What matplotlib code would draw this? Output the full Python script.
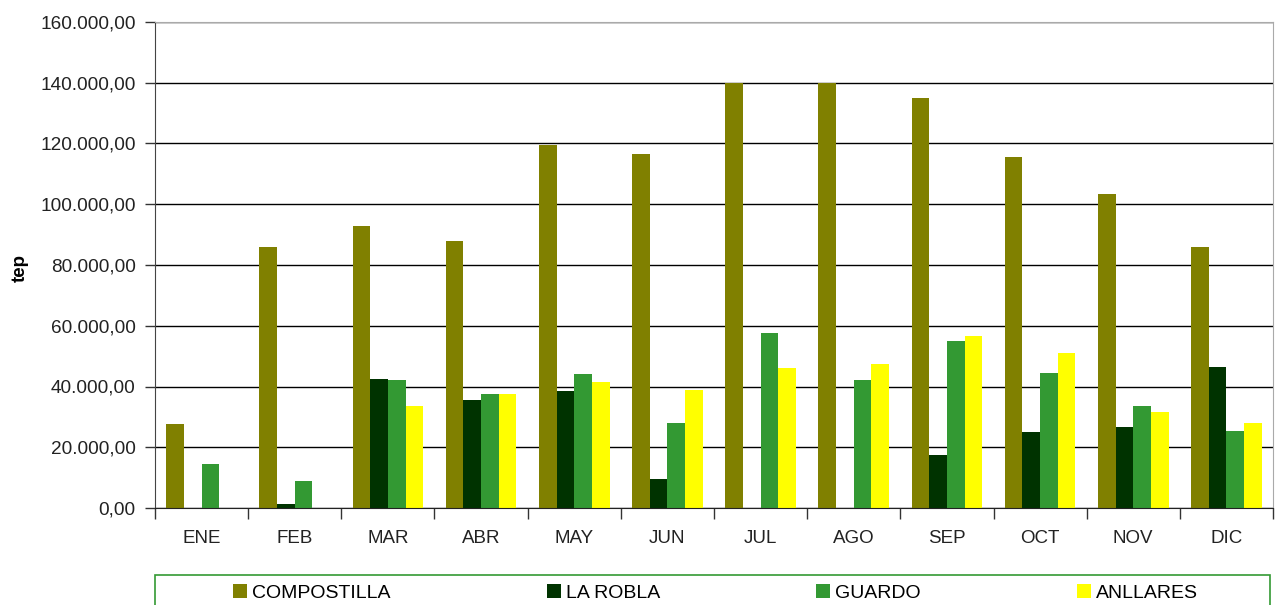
import numpy as np
import matplotlib.pyplot as plt
from matplotlib.patches import Rectangle
from matplotlib.ticker import FuncFormatter, FixedLocator

plt.rcParams['font.family'] = ['Liberation Sans', 'DejaVu Sans']

meses = ['ENE', 'FEB', 'MAR', 'ABR', 'MAY', 'JUN', 'JUL', 'AGO', 'SEP', 'OCT', 'NOV', 'DIC']
compostilla = [27500, 86000, 93000, 88000, 119500, 116500, 140000, 140000, 135000, 115500, 103300, 86000]
la_robla = [0, 1200, 42500, 35500, 38500, 9500, 0, 0, 17500, 25000, 26800, 46500]
guardo = [14500, 8800, 42000, 37500, 44000, 28000, 57500, 42000, 55000, 44500, 33500, 25500]
anllares = [0, 0, 33500, 37500, 41500, 39000, 46000, 47500, 56500, 51000, 31500, 28000]

series = [('COMPOSTILLA', compostilla, '#808000'),
          ('LA ROBLA', la_robla, '#003300'),
          ('GUARDO', guardo, '#339933'),
          ('ANLLARES', anllares, '#FFFF00')]

W, H = 1278, 605
fig = plt.figure(figsize=(W / 100, H / 100), dpi=100)
ax = fig.add_axes([155 / W, 1 - 508 / H, (1273 - 155) / W, (508 - 22) / H])

x = np.arange(len(meses))
bw = 0.19
for i, (name, vals, col) in enumerate(series):
    ax.bar(x + (i - 1.5) * bw, vals, bw, color=col, label=name, linewidth=0)

ax.set_xlim(-0.5, len(meses) - 0.5)
ax.set_ylim(0, 160000)
ax.set_yticks(np.arange(0, 160001, 20000))
ax.yaxis.set_major_formatter(FuncFormatter(
    lambda v, p: f'{v:,.2f}'.replace(',', 'X').replace('.', ',').replace('X', '.')))
ax.set_xticks(x)
ax.set_xticklabels(meses)
ax.xaxis.set_minor_locator(FixedLocator(np.arange(-0.5, len(meses), 1)))
ax.tick_params(axis='x', which='major', length=0, pad=16, labelsize=13.5, colors='#222222')
ax.tick_params(axis='x', which='minor', length=8, width=1, color='#333333')
ax.tick_params(axis='y', length=7, width=1, pad=7, labelsize=13.7, colors='#222222', color='#333333')

ax.grid(axis='y', color='black', linewidth=1)
ax.set_axisbelow(True)
ax.spines['left'].set_color('#444444')
ax.spines['bottom'].set_color('#222222')
ax.spines['top'].set_color('#aaaaaa')
ax.spines['right'].set_color('#aaaaaa')

fig.text(20 / W, 1 - 268 / H, 'tep', rotation=90, ha='center', va='center',
         fontsize=13.5, fontweight='bold')

# marco de la leyenda (cortado abajo como en el original)
fig.patches.append(Rectangle((155 / W, -0.02), (1270 - 155) / W, 0.02 + (605 - 575) / H,
                             transform=fig.transFigure, fill=False,
                             edgecolor='#339933', linewidth=1.2))
handles, labels = ax.get_legend_handles_labels()
fig.legend(handles, labels, ncol=4, mode='expand', frameon=False,
           loc='center left', bbox_to_anchor=(233 / W, 1 - 593 / H, (1198 - 233) / W, 0),
           fontsize=14, handlelength=0.72, handleheight=0.72, handletextpad=0.25,
           borderaxespad=0, borderpad=0)

fig.savefig('out.png', dpi=100)
